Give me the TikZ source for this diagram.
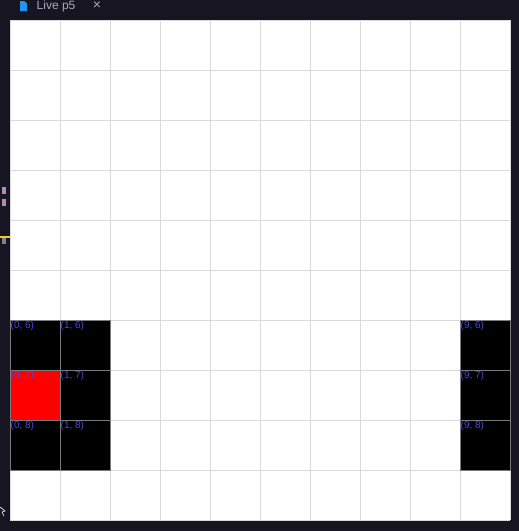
\documentclass[tikz,border=0pt]{standalone}
\usepackage{fontspec}
\setmainfont{Liberation Sans}
\definecolor{chrome}{RGB}{24,21,34}
\definecolor{gridline}{RGB}{218,218,218}
\definecolor{cellline}{RGB}{122,122,122}
\definecolor{coordblue}{RGB}{70,70,235}
\definecolor{tabtext}{RGB}{170,168,186}
\definecolor{fileblue}{RGB}{30,150,240}
\definecolor{markpink}{RGB}{176,140,176}

\begin{document}
\begin{tikzpicture}[
  x=1pt,y=-1pt,
  gridrule/.style={line width=1pt,gridline},
  cellbox/.style={draw=cellline,line width=1pt},
  coordlbl/.style={font=\fontsize{10}{10}\selectfont,coordblue,inner sep=0pt,anchor=north west},
  tablbl/.style={font=\fontsize{12}{12}\selectfont,tabtext,inner sep=0pt},
]

% ============================ window ============================
\fill[chrome] (0,0) rectangle (519,531);
\useasboundingbox (0,0) rectangle (519,531);

% ---- tab bar ----
\fill[fileblue] (20,1) -- (24.5,1) -- (27,3.5) -- (27,11) -- (20,11) -- cycle;
\node[tablbl,anchor=west] (tabname) at (36.5,6.5) {Live p5};
\node[tablbl,anchor=center] (tabclose) at (97,6) {\fontsize{14}{14}\selectfont ×};

% ---- editor margin marks ----
\fill[markpink] (2,187) rectangle (6,194);
\fill[markpink] (2,199) rectangle (6,206);
\fill[yellow!60!brown] (0,236) rectangle (10,237.5);
\fill[gray] (2,237.5) rectangle (6,244);
\draw[white,line width=0.6pt] (0,507) -- (5,511) -- (2,512) -- (4,516);

% ============================ canvas ============================
\fill[white] (10,20) rectangle (510,520);
\foreach \k in {0,...,10}{
  \draw[gridrule] (10+50*\k,20) -- (10+50*\k,520);
  \draw[gridrule] (10,20+50*\k) -- (510,20+50*\k);
}

% ---- occupied cells ----
\foreach \c/\r/\f in {0/6/black,1/6/black,9/6/black,
                      0/7/red,1/7/black,9/7/black,
                      0/8/black,1/8/black,9/8/black}{
  \fill[\f] (10+50*\c,20+50*\r) rectangle ++(50,50);
}
\foreach \c/\r in {0/6,1/6,9/6,0/7,1/7,9/7,0/8,1/8,9/8}{
  \draw[cellbox] (10+50*\c,20+50*\r) rectangle ++(50,50);
  \node[coordlbl] (lbl-\c-\r) at (10.5+50*\c,21.5+50*\r) {(\c, \r)};
}

\end{tikzpicture}
\end{document}
